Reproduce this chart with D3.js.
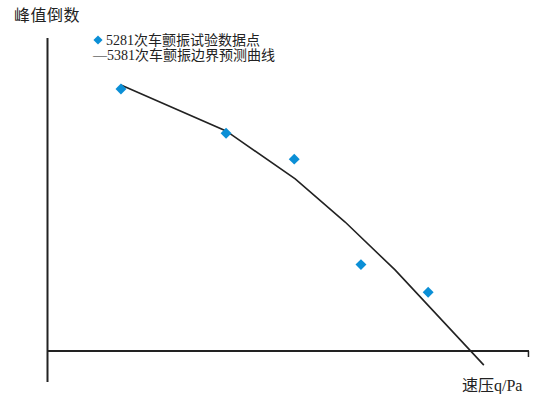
<!DOCTYPE html>
<html>
<head>
<meta charset="utf-8">
<script src="https://cdn.jsdelivr.net/npm/d3@7"></script>
<style>
  body { margin: 0; background: #fff; }
  text { font-family: "Liberation Serif", "Noto Sans CJK SC", serif; fill: #222; }
</style>
</head>
<body>
<div id="chart"></div>
<script>
// Chart data (no tick labels in the original, units are relative)
const testQ = [15.2, 37.1, 51.3, 65.2, 79.2];
const testPeak = [83.7, 69.6, 61.3, 27.6, 18.8];

const predQ = [15.2, 37.1, 51.5, 61.9, 72.3, 90.8];
const predPeak = [85.0, 70.3, 55.0, 41.2, 25.9, -4.5];

const yTitle = "峰值倒数";
const xTitle = "速压q/Pa";
const legendLabels = ["5281次车颤振试验数据点", "—5381次车颤振边界预测曲线"];

// Dimensions
let width = 534;
let height = 394;

let svg = d3.select("#chart").append("svg")
    .attr("width", width)
    .attr("height", height)

// Scales
let x = d3.scaleLinear().domain([0, 100]).range([48, 528]);
let y = d3.scaleLinear().domain([0, 100]).range([351, 38]);

const axisColor = "#222";
const pointColor = "#0b8fd6";

// y axis (runs a little below the x axis)
svg.append("line")
    .attr("x1", x(0) - 0.5).attr("x2", x(0) - 0.5)
    .attr("y1", y(100)).attr("y2", y(-9.9))
    .attr("stroke", axisColor)
    .attr("stroke-width", 2)

// x axis with a small end tick
svg.append("line")
    .attr("x1", x(0)).attr("x2", x(100.2))
    .attr("y1", y(0)).attr("y2", y(0))
    .attr("stroke", axisColor)
    .attr("stroke-width", 2)
svg.append("line")
    .attr("x1", x(100.2) - 0.5).attr("x2", x(100.2) - 0.5)
    .attr("y1", y(0)).attr("y2", y(0) + 6)
    .attr("stroke", axisColor)
    .attr("stroke-width", 1.5)

// prediction curve
let line = d3.line()
    .x(d => x(d[0]))
    .y(d => y(d[1]))

svg.append("path")
    .datum(d3.zip(predQ, predPeak))
    .attr("d", line)
    .attr("fill", "none")
    .attr("stroke", axisColor)
    .attr("stroke-width", 1.6)

// test points
let diamond = d3.symbol().type(d3.symbolSquare).size(60);
svg.append("g")
    .selectAll("path")
    .data(d3.zip(testQ, testPeak))
    .enter().append("path")
    .attr("d", diamond)
    .attr("transform", d => `translate(${x(d[0])},${y(d[1])}) rotate(45)`)
    .attr("fill", pointColor)

// titles
svg.append("text")
    .attr("x", 14)
    .attr("y", 21)
    .attr("font-size", "16px")
    .attr("letter-spacing", "0.5px")
    .text(yTitle)

svg.append("text")
    .attr("x", 462)
    .attr("y", 391)
    .attr("font-size", "16px")
    .text(xTitle)

// legend
svg.append("path")
    .attr("d", d3.symbol().type(d3.symbolSquare).size(42))
    .attr("transform", "translate(98,40) rotate(45)")
    .attr("fill", pointColor)

svg.append("text")
    .attr("x", 106)
    .attr("y", 45)
    .attr("font-size", "14px")
    .text(legendLabels[0])

svg.append("text")
    .attr("x", 93)
    .attr("y", 60)
    .attr("font-size", "14px")
    .text(legendLabels[1])
</script>
</body>
</html>
